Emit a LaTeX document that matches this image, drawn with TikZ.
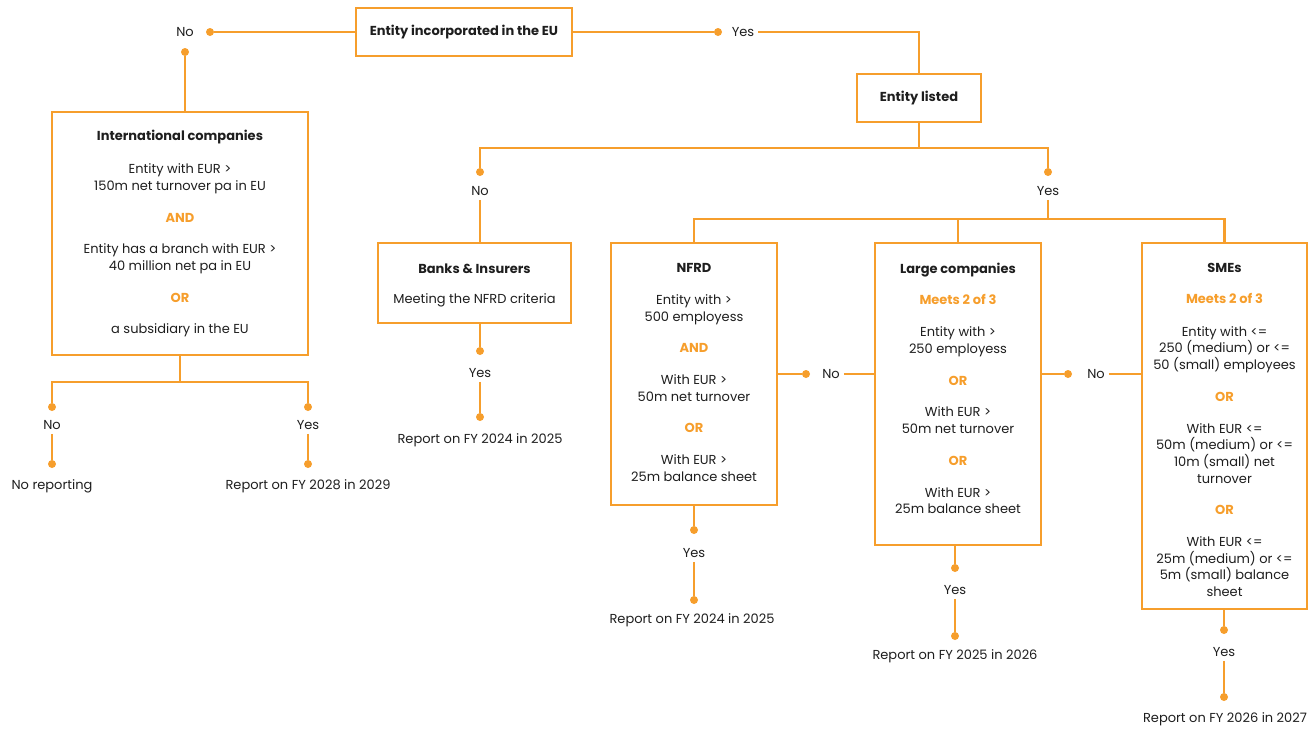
\documentclass[tikz,border=0pt]{standalone}
\usepackage{fontspec}
\setmainfont{Poppins}
\usetikzlibrary{positioning}
\definecolor{kporange}{RGB}{246,158,44}
\definecolor{kptext}{RGB}{30,30,30}
\newcommand{\fsz}{\fontsize{13}{16.7}\selectfont}
\newcommand{\kw}[1]{\textcolor{kporange}{\bfseries #1}}
\tikzset{
  box/.style={draw=kporange, line width=2.3pt, align=center, text=kptext, inner sep=0pt, font=\fsz},
  boxtext/.style={align=center, text=kptext, inner sep=0pt, font=\fsz},
  link/.style={draw=kporange, line width=2.3pt},
  dot/.style={circle, fill=kporange, inner sep=0pt, minimum size=8pt},
  lbl/.style={text=kptext, inner sep=4pt, font=\fsz},
}
\begin{document}
\begin{tikzpicture}[x=1pt,y=-1pt]
\useasboundingbox (0,0) rectangle (1315,729);

% boxes
\node[box, minimum width=216pt, minimum height=48pt] (eu) at (464,32) {\textbf{Entity incorporated in the EU}};
\node[box, minimum width=124pt, minimum height=48pt] (listed) at (919,98) {\textbf{Entity listed}};
\node[box, minimum width=256pt, minimum height=243pt] (intl) at (180,233.5) {};
\node[box, minimum width=193pt, minimum height=80pt] (banks) at (474.5,283) {};
\node[box, minimum width=166pt, minimum height=262pt] (nfrd) at (694,374) {};
\node[box, minimum width=166pt, minimum height=302pt] (large) at (958,394) {};
\node[box, minimum width=165pt, minimum height=366pt] (smes) at (1224.5,426) {};

% box texts
\node[boxtext, below=19.5pt of intl.north] (intltxt) {\textbf{International companies}\\[16pt]
  Entity with EUR >\\ 150m net turnover pa in EU\\[15pt] \kw{AND}\\[15pt]
  Entity has a branch with EUR >\\ 40 million net pa in EU\\[15pt] \kw{OR}\\[15pt]
  a subsidiary in the EU};
\node[boxtext, below=21.5pt of banks.north] (bankstxt) {\textbf{Banks \& Insurers}\\[14pt] Meeting the NFRD criteria};
\node[boxtext, below=21.5pt of nfrd.north] (nfrdtxt) {\textbf{NFRD}\\[15pt]
  Entity with >\\ 500 employess\\[15pt] \kw{AND}\\[15pt]
  With EUR >\\ 50m net turnover\\[15pt] \kw{OR}\\[15pt]
  With EUR >\\ 25m balance sheet};
\node[boxtext, below=21pt of large.north] (largetxt) {\textbf{Large companies}\\[14pt] \kw{Meets 2 of 3}\\[16pt]
  Entity with >\\ 250 employess\\[15pt] \kw{OR}\\[15pt]
  With EUR >\\ 50m net turnover\\[15pt] \kw{OR}\\[15pt]
  With EUR >\\ 25m balance sheet};
\node[boxtext, below=21.5pt of smes.north] (smestxt) {\textbf{SMEs}\\[14pt] \kw{Meets 2 of 3}\\[16pt]
  Entity with <=\\ 250 (medium) or <=\\ 50 (small) employees\\[15pt] \kw{OR}\\[15pt]
  With EUR <=\\ 50m (medium) or <=\\ 10m (small) net\\ turnover\\[15pt] \kw{OR}\\[15pt]
  With EUR <=\\ 25m (medium) or <=\\ 5m (small) balance\\ sheet};

% incorporated in the EU
\node[lbl] (noeu) at (185,32) {No};
\node[dot] (dnoeu) at (210,32) {};
\node[dot] (dnoeub) at (185,52) {};
\node[lbl] (yeseu) at (743,32) {Yes};
\node[dot] (dyeseu) at (718,32) {};
\draw[link] (eu) -- (dnoeu);
\draw[link] (dnoeub) -- (dnoeub |- intl.north);
\draw[link] (eu) -- (dyeseu);
\draw[link] (yeseu.east) -| (listed.north);

% international companies
\coordinate (jintl) at (180,382);
\node[dot] (dnointl) at (52,407) {};
\node[lbl] (nointl) at (52,425) {No};
\node[dot] (dnointlb) at (52,464) {};
\node[lbl] (noreport) at (52,486) {No reporting};
\node[dot] (dyesintl) at (308,407) {};
\node[lbl] (yesintl) at (308,425) {Yes};
\node[dot] (dyesintlb) at (308,464) {};
\node[lbl] (rep2028) at (308,486) {Report on FY 2028 in 2029};
\draw[link] (intl.south) -- (jintl);
\draw[link] (dnointl) |- (jintl) -| (dyesintl);
\draw[link] (nointl.south) -- (dnointlb);
\draw[link] (yesintl.south) -- (dyesintlb);

% listed
\coordinate (jlisted) at (919,148);
\node[dot] (dnolisted) at (480,172) {};
\node[lbl] (nolisted) at (480,191) {No};
\node[dot] (dyeslisted) at (1048,172) {};
\node[lbl] (yeslisted) at (1048,191) {Yes};
\draw[link] (listed.south) -- (jlisted);
\draw[link] (dnolisted) |- (jlisted) -| (dyeslisted);
\draw[link] (nolisted.south) -- (nolisted.south |- banks.north);

% banks
\node[dot] (dbanks) at (480,351) {};
\node[lbl] (yesbanks) at (480,373) {Yes};
\node[dot] (dbanksb) at (480,417) {};
\node[lbl] (rep2024a) at (480,440) {Report on FY 2024 in 2025};
\draw[link] (dbanks |- banks.south) -- (dbanks);
\draw[link] (yesbanks.south) -- (dbanksb);

% split of listed entities
\coordinate (jyes) at (1048,219);
\draw[link] (yeslisted.south) -- (jyes);
\draw[link] (nfrd.north) |- (jyes) -| (smes.north);
\draw[link] (large.north) -- (large.north |- jyes);

% NFRD
\node[dot] (dnonfrd) at (806,374) {};
\node[lbl] (nonfrd) at (831,374) {No};
\draw[link] (nfrd.east) -- (dnonfrd);
\draw[link] (nonfrd.east) -- (nonfrd.east -| large.west);
\node[dot] (dyesnfrd) at (694,530) {};
\node[lbl] (yesnfrd) at (694,553) {Yes};
\node[dot] (dyesnfrdb) at (694,600) {};
\node[lbl] (rep2024b) at (692,620) {Report on FY 2024 in 2025};
\draw[link] (nfrd.south) -- (dyesnfrd);
\draw[link] (yesnfrd.south) -- (dyesnfrdb);

% large companies
\node[dot] (dnolarge) at (1068,374) {};
\node[lbl] (nolarge) at (1096,374) {No};
\draw[link] (dnolarge -| large.east) -- (dnolarge);
\draw[link] (nolarge.east) -- (nolarge.east -| smes.west);
\node[dot] (dyeslarge) at (955,568) {};
\node[lbl] (yeslarge) at (955,590) {Yes};
\node[dot] (dyeslargeb) at (955,636) {};
\node[lbl] (rep2025) at (955,656) {Report on FY 2025 in 2026};
\draw[link] (dyeslarge |- large.south) -- (dyeslarge);
\draw[link] (yeslarge.south) -- (dyeslargeb);

% SMEs
\node[dot] (dyessmes) at (1224,630) {};
\node[lbl] (yessmes) at (1224,652) {Yes};
\node[dot] (dyessmesb) at (1224,697) {};
\node[lbl] (rep2026) at (1225,719) {Report on FY 2026 in 2027};
\draw[link] (dyessmes |- smes.south) -- (dyessmes);
\draw[link] (yessmes.south) -- (dyessmesb);
\end{tikzpicture}
\end{document}
